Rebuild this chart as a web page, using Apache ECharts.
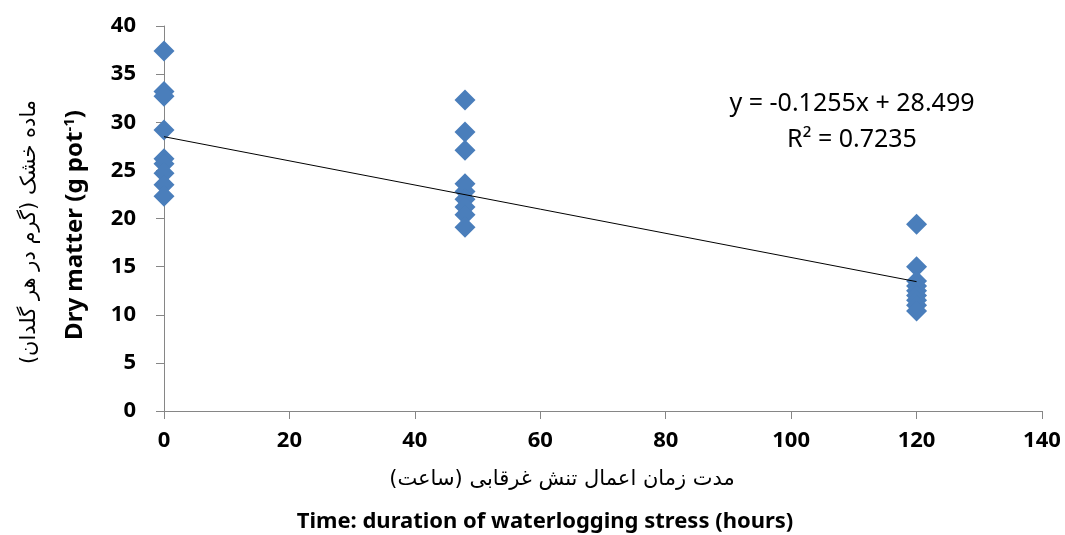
<!DOCTYPE html>
<html>
<head>
<meta charset="utf-8">
<script src="https://cdn.jsdelivr.net/npm/echarts@6/dist/echarts.min.js"></script>
<style>
  html, body { margin: 0; padding: 0; background: #fff; }
  #chart { width: 1065px; height: 535px; }
</style>
</head>
<body>
<div id="chart"></div>
<script>
// data
var hours = [0, 48, 120];
var dryMatter0 = [37.4, 33.2, 32.7, 29.2, 26.2, 25.7, 24.7, 23.5, 22.3];
var dryMatter48 = [32.3, 29.0, 27.1, 23.6, 22.8, 22.0, 21.2, 20.4, 19.1];
var dryMatter120 = [19.4, 15.0, 13.5, 13.0, 12.5, 12.0, 11.5, 11.0, 10.4];
var xTicks = [0, 20, 40, 60, 80, 100, 120, 140];
var yTicks = [0, 5, 10, 15, 20, 25, 30, 35, 40];
var slope = -0.1255, intercept = 28.499, r2 = 0.7235;

var groups = [dryMatter0, dryMatter48, dryMatter120];
var points = [];
groups.forEach(function (vals, i) {
  vals.forEach(function (v) { points.push([hours[i], v]); });
});
// trend line from the fitted equation
var trend = [hours[0], hours[hours.length - 1]].map(function (x) {
  return [x, intercept + slope * x];
});

var axisFont = { fontFamily: 'Noto Sans', fontWeight: 'bold', fontSize: 22, color: '#000' };
var tickStyle = { show: true, length: 8, lineStyle: { color: '#868686', width: 1 } };

var myChart = echarts.init(document.getElementById('chart'));
var option = {
  backgroundColor: '#fff',
  animation: false,
  grid: { left: 164, right: 23, top: 26, bottom: 124 },
  xAxis: {
    type: 'value',
    min: xTicks[0], max: xTicks[xTicks.length - 1], interval: 20,
    axisLine: { lineStyle: { color: '#868686', width: 1 } },
    axisTick: tickStyle,
    splitLine: { show: false },
    axisLabel: Object.assign({ margin: 19 }, axisFont)
  },
  yAxis: {
    type: 'value',
    min: yTicks[0], max: yTicks[yTicks.length - 1], interval: 5,
    axisLine: { show: true, lineStyle: { color: '#868686', width: 1 } },
    axisTick: tickStyle,
    splitLine: { show: false },
    axisLabel: Object.assign({ margin: 28 }, axisFont)
  },
  series: [
    {
      type: 'line',
      data: trend,
      symbol: 'none',
      lineStyle: { color: '#000', width: 1 },
      z: 3
    },
    {
      type: 'scatter',
      data: points,
      symbol: 'path://M0,-1L1,0L0,1L-1,0Z',
      symbolSize: 21,
      itemStyle: { color: '#4a7ebb', opacity: 1 },
      z: 2
    }
  ],
  graphic: [
    {
      type: 'text',
      x: 852, y: 122,
      style: {
        text: 'y = ' + slope + 'x + ' + intercept + '\nR² = ' + r2,
        x: 0, y: 0, align: 'center', verticalAlign: 'middle',
        font: '25px "Noto Sans"', fill: '#000', lineHeight: 36
      }
    },
    {
      type: 'text',
      x: 30, y: 232, rotation: Math.PI / 2,
      style: {
        text: '(ماده خشک (گرم در هر گلدان',
        x: 0, y: 0, align: 'center', verticalAlign: 'middle',
        font: '21px "DejaVu Sans"', fill: '#000'
      }
    },
    {
      type: 'text',
      x: 75, y: 225, rotation: Math.PI / 2,
      style: {
        text: 'Dry matter (g pot{sup|-1})',
        x: 0, y: 0, align: 'center', verticalAlign: 'middle',
        font: 'bold 24px "Noto Sans"', fill: '#000',
        rich: { sup: { fontSize: 15, fontWeight: 'bold', fontFamily: 'Noto Sans', verticalAlign: 'top', padding: [0, 0, 10, 0] } }
      }
    },
    {
      type: 'text',
      x: 562, y: 480,
      style: {
        text: '(مدت زمان اعمال تنش غرقابی (ساعت',
        x: 0, y: 0, align: 'center', verticalAlign: 'middle',
        font: '21px "DejaVu Sans"', fill: '#000'
      }
    },
    {
      type: 'text',
      x: 545, y: 522,
      style: {
        text: 'Time: duration of waterlogging stress (hours)',
        x: 0, y: 0, align: 'center', verticalAlign: 'middle',
        font: 'bold 22px "Noto Sans"', fill: '#000'
      }
    }
  ]
};
myChart.setOption(option);
</script>
</body>
</html>
